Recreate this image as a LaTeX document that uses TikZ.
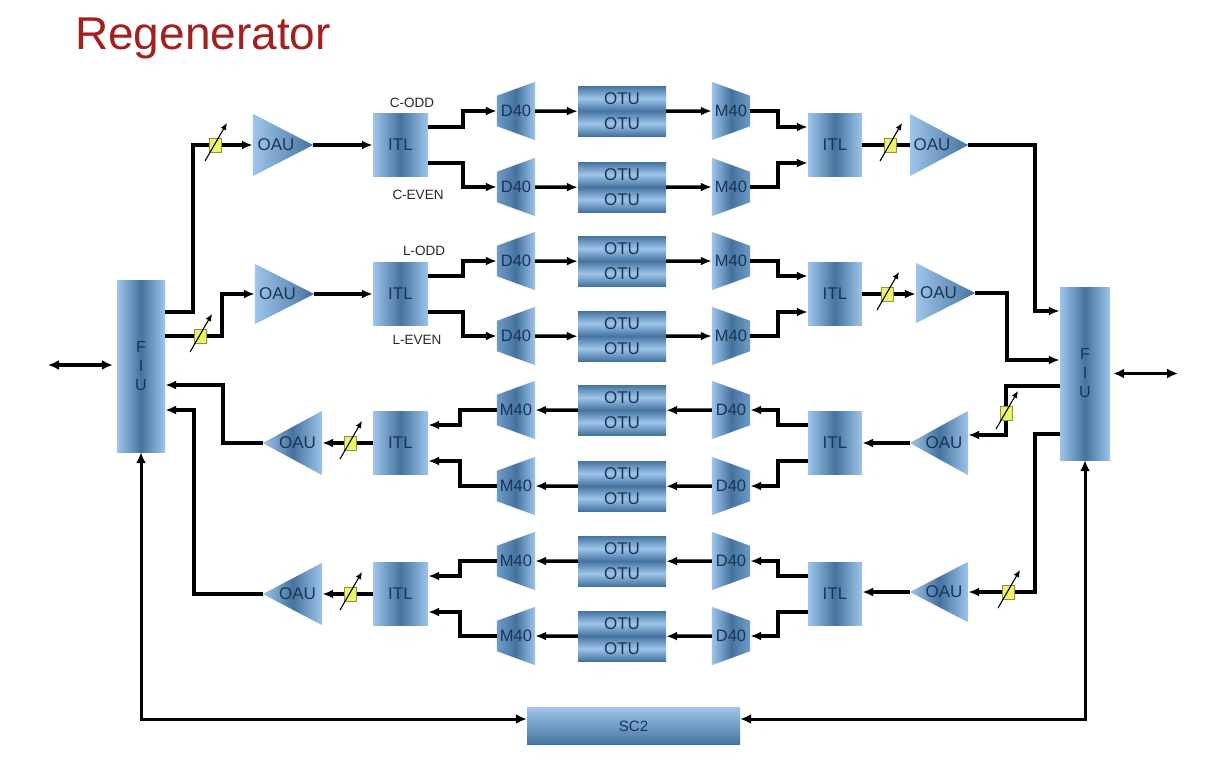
\documentclass[tikz,border=0pt]{standalone}
\usepackage{fontspec}
\setmainfont{Liberation Sans}
\usetikzlibrary{arrows.meta,backgrounds}
\definecolor{bl}{HTML}{9EC5EA}
\definecolor{bd}{HTML}{45739F}
\definecolor{bm}{HTML}{6E9BC8}
\definecolor{tx}{HTML}{1B3556}
\definecolor{ttl}{HTML}{A3201E}
\definecolor{voa}{HTML}{EEF36A}
\begin{document}
\begin{tikzpicture}[x=1pt,y=-1pt,
  lw/.style={line width=3.5pt},
  conn/.style={lw, -{Latex[length=11pt,width=9pt]}},
  plainc/.style={lw},
  bidir/.style={lw, {Latex[length=11pt,width=10pt]}-{Latex[length=11pt,width=10pt]}},
  vbox/.style={rectangle, inner sep=0pt, left color=bl, right color=bl, middle color=bd, text=tx, font=\fontsize{17}{17}\selectfont},
  otuh/.style={rectangle, inner sep=0pt, minimum width=88pt, minimum height=25pt, top color=bd, bottom color=bd, middle color=bl, text=tx, font=\fontsize{17}{17}\selectfont},
  trap/.style={rectangle, inner sep=0pt, minimum width=38pt, minimum height=58pt, text=tx, font=\fontsize{16.5}{16.5}\selectfont},
  tri/.style={rectangle, inner sep=0pt},
  lbl/.style={text=tx, font=\fontsize{17}{17}\selectfont, inner sep=0pt},
  side/.style={text=black!85, font=\fontsize{13.5}{13.5}\selectfont, inner sep=0pt},
  voab/.style={rectangle, inner sep=0pt, minimum width=12pt, minimum height=14pt, fill=voa, draw=voa!60!black, line width=0.4pt},
  voaa/.style={line width=1.1pt, -{Latex[length=7pt,width=6pt]}}
]
\useasboundingbox (0,0) rectangle (1223,758);

% title
\node[anchor=base west, inner sep=0pt, font=\fontsize{46}{46}\selectfont, text=ttl] (title) at (75,49) {Regenerator};

% FIU
\node[vbox, minimum width=48pt, minimum height=172pt, align=center, font=\fontsize{16}{19}\selectfont] (fiuL) at (141,366) {F\\I\\U};
\node[vbox, minimum width=50pt, minimum height=173pt, align=center, font=\fontsize{16}{19}\selectfont] (fiuR) at (1085,373.5) {F\\I\\U};

% SC2
\node[rectangle, inner sep=0pt, minimum width=213pt, minimum height=37pt, top color=bl, bottom color=bd, text=tx, font=\fontsize{15}{15}\selectfont] (sc2) at (633.5,726) {SC2};

% ITL boxes
\foreach \i/\y in {1/145,2/294,3/443,4/594}{
  \node[vbox, minimum width=55pt, minimum height=63pt] (itlL\i) at (400.5,\y) {ITL};
  \node[vbox, minimum width=54pt, minimum height=63pt] (itlR\i) at (835,\y) {ITL};
}

% OAU triangles
\foreach \n/\x/\y/\w/\h/\d in {L1/283/145/60/62/r, L2/284.5/294/59/60/r, L3/292.5/443/59/64/l, L4/292.5/594/59/62/l,
                               R1/939/145/58/62/r, R2/945.5/293/59/60/r, R3/939/443/58/64/l, R4/939/592/58/60/l}{
  \node[tri, minimum width=\w pt, minimum height=\h pt] (oau\n) at (\x,\y) {};
  \if\d r
    \begin{scope}[on background layer]
      \shade[left color=bl, right color=bd] (oau\n.north west) -- (oau\n.east) -- (oau\n.south west) -- cycle;
    \end{scope}
    \node[lbl] (oau\n t) at ([xshift=-7pt]oau\n.center) {OAU};
  \else
    \begin{scope}[on background layer]
      \shade[left color=bl, right color=bl, middle color=bd] (oau\n.north east) -- (oau\n.west) -- (oau\n.south east) -- cycle;
    \end{scope}
    \node[lbl] (oau\n t) at ([xshift=5pt]oau\n.center) {OAU};
  \fi
}

% D40 / OTU / M40 sub-rows
\foreach \s/\y/\lt/\rt/\dir in {a1/111/D40/M40/f, b1/187/D40/M40/f, a2/261/D40/M40/f, b2/336/D40/M40/f,
                                a3/410/M40/D40/b, b3/486/M40/D40/b, a4/561/M40/D40/b, b4/636/M40/D40/b}{
  \node[trap] (tl\s) at (516,\y) {\lt};
  \node[trap] (tr\s) at (731,\y) {\rt};
  \node[otuh] (ou\s) at (622,\y-12.5) {OTU};
  \node[otuh] (od\s) at (622,\y+12.5) {OTU};
  \begin{scope}[on background layer]
    \shade[left color=bm, right color=bl, middle color=bd] ([yshift=-14pt]tl\s.north west) -- (tl\s.north east) -- (tl\s.south east) -- ([yshift=14pt]tl\s.south west) -- cycle;
    \shade[left color=bl, right color=bm, middle color=bd] (tr\s.north west) -- ([yshift=-14pt]tr\s.north east) -- ([yshift=14pt]tr\s.south east) -- (tr\s.south west) -- cycle;
  \end{scope}
  \if\dir f
    \draw[conn] (tl\s.east) -- (ou\s.south west);
    \draw[conn] (ou\s.south east) -- (tr\s.west);
  \else
    \draw[conn] (tr\s.west) -- (ou\s.south east);
    \draw[conn] (ou\s.south west) -- (tl\s.east);
  \fi
}

% side labels
\node[side] (cOdd) at (412,103) {C-ODD};
\node[side] (cEven) at (418,195) {C-EVEN};
\node[side] (lOdd) at (424,251) {L-ODD};
\node[side] (lEven) at (417,340) {L-EVEN};

% ITL <-> D40/M40
\foreach \i in {1,2}{
  \draw[conn] ([yshift=18pt]itlL\i.east) -- ++(35,0) |- (tla\i.west);
  \draw[conn] ([yshift=-18pt]itlL\i.east) -- ++(35,0) |- (tlb\i.west);
  \draw[conn] (tra\i.east) -- ++(28,0) |- ([yshift=18pt]itlR\i.west);
  \draw[conn] (trb\i.east) -- ++(28,0) |- ([yshift=-18pt]itlR\i.west);
}
\foreach \i in {3,4}{
  \draw[conn] ([yshift=18pt]itlR\i.west) -- ++(-30,0) |- (tra\i.east);
  \draw[conn] ([yshift=-18pt]itlR\i.west) -- ++(-30,0) |- (trb\i.east);
  \draw[conn] (tla\i.west) -- ++(-37,0) |- ([yshift=18pt]itlL\i.east);
  \draw[conn] (tlb\i.west) -- ++(-37,0) |- ([yshift=-18pt]itlL\i.east);
}

% OAU <-> ITL
\draw[conn] (oauL1.east) -- (itlL1.west |- oauL1.east);
\draw[conn] (oauL2.east) -- (itlL2.west |- oauL2.east);
\draw[conn] (itlL3.west) -- (oauL3.east |- itlL3.west);
\draw[conn] (itlL4.west) -- (oauL4.east |- itlL4.west);
\draw[plainc] (itlR1.east) -- (oauR1.west |- itlR1.east);
\draw[conn] (itlR2.east) -- (oauR2.west |- itlR2.east);
\draw[conn] (oauR3.west) -- (itlR3.east |- oauR3.west);
\draw[conn] (oauR4.west) -- (itlR4.east |- oauR4.west);

% FIU <-> OAU
\draw[conn] ([yshift=54pt]fiuL.east) -- ++(28,0) |- (oauL1.west);
\draw[conn] ([yshift=30pt]fiuL.east) -- ++(57,0) |- (oauL2.west);
\draw[conn] (oauL3.west) -- ++(-40,0) |- ([yshift=-19pt]fiuL.east);
\draw[conn] (oauL4.west) -- ++(-69,0) |- ([yshift=-44pt]fiuL.east);
\draw[conn] (oauR1.east) -- ++(67,0) |- ([yshift=62.5pt]fiuR.west);
\draw[conn] (oauR2.east) -- ++(32,0) |- ([yshift=13.5pt]fiuR.west);
\draw[conn] ([yshift=-12.5pt]fiuR.west) -- ++(-54,0) |- ([yshift=8pt]oauR3.east);
\draw[conn] ([yshift=-60.5pt]fiuR.west) -- ++(-25,0) |- (oauR4.east);

% FIU <-> SC2
\draw[bidir, line width=3pt] (fiuL.south) |- ([yshift=7pt]sc2.west);
\draw[bidir, line width=3pt] (fiuR.south) |- ([yshift=7pt]sc2.east);

% external ports
\coordinate (portL) at (48,365);
\coordinate (portR) at (1178,373.5);
\draw[bidir] (portL) -- ([xshift=-4pt]fiuL.west |- portL);
\draw[bidir] ([xshift=3pt]fiuR.east |- portR) -- (portR);

% VOAs
\foreach \n/\x/\y in {L1/215/145, L2/200/336, L3/350/443, L4/350/594, R1/890/145, R2/887/294, R3/1006/413, R4/1008/592}{
  \node[voab] (voa\n) at (\x,\y) {};
  \draw[voaa] ([shift={(-10,16)}]voa\n.center) -- ([shift={(12,-22)}]voa\n.center);
}
\end{tikzpicture}
\end{document}
